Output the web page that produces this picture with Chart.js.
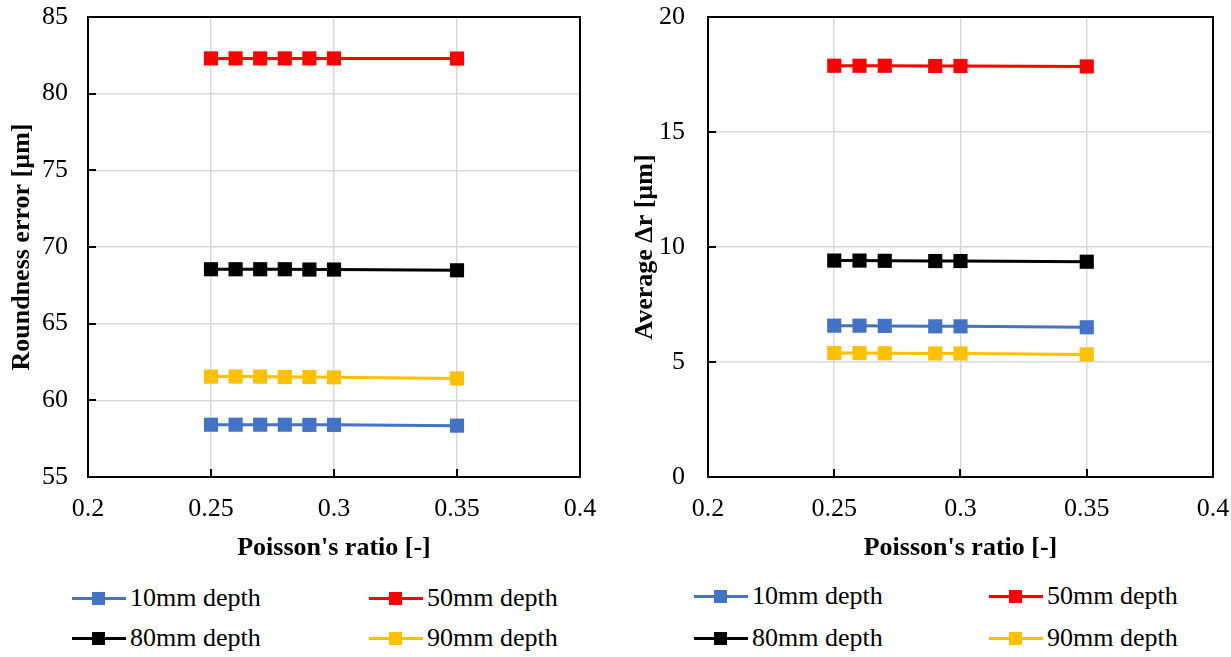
<!DOCTYPE html>
<html>
<head>
<meta charset="utf-8">
<script src="https://cdn.jsdelivr.net/npm/chart.js@4/dist/chart.umd.min.js"></script>
<style>
  body { margin: 0; background: #fff; font-family: "Liberation Serif", "Times New Roman", serif; }
  #page { position: relative; width: 1231px; height: 657px; overflow: hidden; }
  .box { position: absolute; top: 0; }
  .item { position: absolute; height: 26px; font-size: 26px; line-height: 26px; color: #000; white-space: nowrap; }
  .item .line { position: absolute; left: 0; top: 11px; width: 54px; height: 3px; }
  .item .mark { position: absolute; left: 20px; top: 6px; width: 13px; height: 13px; }
  .item .txt { position: absolute; left: 58px; top: -1px; }
</style>
</head>
<body>
<div id="page">
  <div class="box" style="left:0;width:615px;height:570px"><canvas id="left" width="615" height="570"></canvas></div>
  <div class="box" style="left:620px;width:611px;height:570px"><canvas id="right" width="611" height="570"></canvas></div>
  <div id="legendLeft"></div>
  <div id="legendRight"></div>
</div>
<script>
// series labels and colours
const seriesNames = ['10mm depth', '50mm depth', '80mm depth', '90mm depth'];
const seriesColors = ['#4472C4', '#FF0000', '#000000', '#FFC000'];

// left chart: roundness error
const xLeft = [0.25, 0.26, 0.27, 0.28, 0.29, 0.30, 0.35];
const left10 = [58.41, 58.41, 58.41, 58.41, 58.4, 58.4, 58.35];
const left50 = [82.3, 82.3, 82.3, 82.3, 82.3, 82.3, 82.29];
const left80 = [68.55, 68.55, 68.55, 68.55, 68.53, 68.53, 68.48];
const left90 = [61.55, 61.55, 61.55, 61.52, 61.52, 61.5, 61.43];

// right chart: average delta r
const xRight = [0.25, 0.26, 0.27, 0.29, 0.30, 0.35];
const right10 = [6.58, 6.58, 6.57, 6.55, 6.55, 6.51];
const right50 = [17.88, 17.88, 17.88, 17.87, 17.87, 17.85];
const right80 = [9.41, 9.41, 9.4, 9.39, 9.39, 9.36];
const right90 = [5.39, 5.39, 5.38, 5.37, 5.37, 5.33];

const xTickLabels = ['0.2', '0.25', '0.3', '0.35', '0.4'];

const font = "'Liberation Serif', 'Times New Roman', serif";

function makeDatasets(xs, seriesList) {
  return seriesList.map((vals, i) => ({
    label: seriesNames[i],
    data: xs.map((x, j) => ({ x, y: vals[j] })),
    borderColor: seriesColors[i],
    backgroundColor: seriesColors[i],
    borderWidth: 3,
    pointStyle: 'rect',
    pointRadius: 10,
    pointHoverRadius: 10,
    pointBorderWidth: 0,
    fill: false,
    tension: 0
  }));
}

// frame + inner tick marks
const framePlugin = {
  id: 'frame',
  afterDraw(chart) {
    const { ctx, chartArea: a, scales } = chart;
    ctx.save();
    ctx.strokeStyle = '#000';
    ctx.lineWidth = 2;
    ctx.strokeRect(a.left, a.top, a.right - a.left, a.bottom - a.top);
    ctx.beginPath();
    scales.y.ticks.forEach(t => {
      const py = Math.round(scales.y.getPixelForValue(t.value));
      ctx.moveTo(a.left, py);
      ctx.lineTo(a.left + 8, py);
    });
    scales.x.ticks.forEach(t => {
      const px = Math.round(scales.x.getPixelForValue(t.value));
      ctx.moveTo(px, a.bottom);
      ctx.lineTo(px, a.bottom - 8);
    });
    ctx.stroke();
    ctx.restore();
  }
};

// tick gaps are done with invisible tick marks, so they do not grow the layout padding
function makeChart(id, datasets, yMin, yMax, yStep, yTitle, padRight, yTitlePad, yTickGap) {
  return new Chart(document.getElementById(id), {
    type: 'line',
    data: { datasets },
    plugins: [framePlugin],
    options: {
      responsive: false,
      animation: false,
      layout: { padding: { top: 17, right: padRight, left: 0, bottom: 0 } },
      plugins: { legend: { display: false }, tooltip: { enabled: false } },
      scales: {
        x: {
          type: 'linear',
          min: 0.2,
          max: 0.4,
          afterFit: s => { s.height = 93; },
          ticks: {
            stepSize: 0.05,
            padding: 0,
            color: '#000',
            font: { family: font, size: 26 },
            callback: (v, i) => xTickLabels[i]
          },
          grid: { color: '#d9d9d9', lineWidth: 1.5, drawTicks: true, tickLength: 17, tickColor: 'rgba(0,0,0,0)' },
          border: { color: '#000', width: 2 },
          title: {
            display: true,
            text: "Poisson's ratio [-]",
            color: '#000',
            font: { family: font, size: 26, weight: 'bold' },
            padding: { top: 0, bottom: 6 }
          }
        },
        y: {
          min: yMin,
          max: yMax,
          afterFit: s => { s.width = 88; },
          ticks: {
            stepSize: yStep,
            padding: 0,
            color: '#000',
            font: { family: font, size: 26 }
          },
          grid: { color: '#d9d9d9', lineWidth: 1.5, drawTicks: true, tickLength: yTickGap, tickColor: 'rgba(0,0,0,0)' },
          border: { color: '#000', width: 2 },
          title: {
            display: true,
            text: yTitle,
            color: '#000',
            font: { family: font, size: 26, weight: 'bold' },
            padding: { top: yTitlePad, bottom: 0 }
          }
        }
      }
    }
  });
}

makeChart('left', makeDatasets(xLeft, [left10, left50, left80, left90]), 55, 85, 5,
  'Roundness error [µm]', 35, 7, 20);
makeChart('right', makeDatasets(xRight, [right10, right50, right80, right90]), 0, 20, 5,
  'Average Δr [µm]', 18, 10, 23);

function buildLegend(el, cols, rows) {
  [0, 1, 2, 3].forEach(i => {
    const c = i % 2, r = Math.floor(i / 2);
    const d = document.createElement('div');
    d.className = 'item';
    d.style.left = cols[c] + 'px';
    d.style.top = (rows[r] - 13) + 'px';
    d.innerHTML = '<span class="line" style="background:' + seriesColors[i] + '"></span>' +
      '<span class="mark" style="background:' + seriesColors[i] + '"></span>' +
      '<span class="txt">' + seriesNames[i] + '</span>';
    el.appendChild(d);
  });
}
buildLegend(document.getElementById('legendLeft'), [72, 369], [599, 639]);
buildLegend(document.getElementById('legendRight'), [694, 989], [597, 639]);
</script>
</body>
</html>
